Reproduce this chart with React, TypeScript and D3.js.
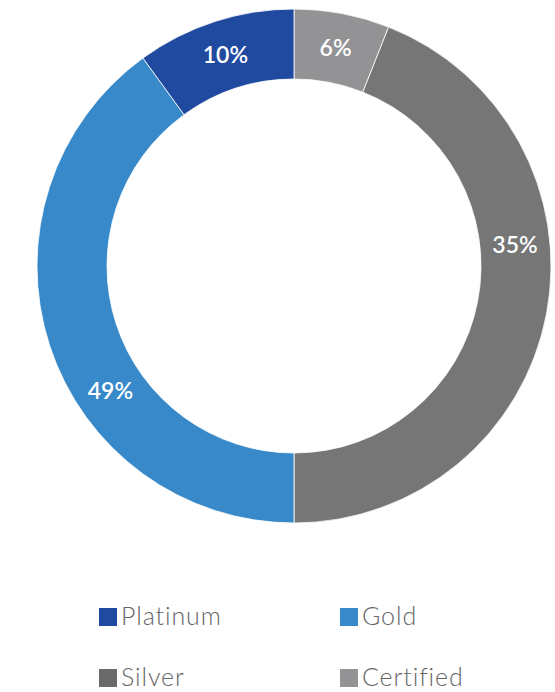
import React from "react";
import * as d3 from "d3";

const categories = ["Certified", "Silver", "Gold", "Platinum"];
const arcValues = [6, 44, 40, 10];
const labelValues = [6, 35, 49, 10];
const colors = ["#939396", "#767676", "#3889c9", "#1f4a9f"];
const legendOrder = ["Platinum", "Gold", "Silver", "Certified"];
const legendColors: Record<string, string> = {
  Platinum: "#1f4a9f",
  Gold: "#3889c9",
  Silver: "#6a6a6a",
  Certified: "#939396",
};

export default function App() {
  const W = 555, H = 692;
  const cx = 294, cy = 266;
  const outerR = 257, innerR = 187;
  const pie = d3.pie<number>().sort(null).value((d) => d);
  const arcs = pie(arcValues);
  const labelArcs = pie(labelValues);
  const arcGen = d3.arc<d3.PieArcDatum<number>>().innerRadius(innerR).outerRadius(outerR);
  const labelGen = d3.arc<d3.PieArcDatum<number>>().innerRadius(innerR).outerRadius(outerR);
  const legendX = d3.scaleOrdinal<number>().domain(["0", "1"]).range([99, 340]);
  const legendY = d3.scaleOrdinal<number>().domain(["0", "1"]).range([608, 669]);
  return (
    <svg width={W} height={H} style={{ position: "absolute", left: 0, top: 0 }}>
      <g transform={`translate(${cx},${cy})`}>
        {arcs.map((a, i) => (
          <path key={categories[i]} d={arcGen(a) || ""} fill={colors[i]} stroke="#fff" strokeWidth={0.8} />
        ))}
        {labelArcs.map((a, i) => {
          const [x, y] = labelGen.centroid(a);
          return (
            <text key={"l" + i} x={x} y={y} dy="0.35em" textAnchor="middle" fill="#fff"
              fontFamily="Lato, 'Open Sans', sans-serif" fontWeight={600} fontSize={23}>
              {labelValues[i]}%
            </text>
          );
        })}
      </g>
      {legendOrder.map((name, i) => {
        const x = legendX(String(i % 2));
        const y = legendY(String(Math.floor(i / 2)));
        return (
          <g key={name}>
            <rect x={x} y={y} width={18} height={18} fill={legendColors[name]} />
            <text x={x + 22} y={y + 17} fill="#666" fontFamily="Lato, 'Open Sans', sans-serif"
              fontWeight={300} fontSize={25} letterSpacing={0.9}>{name}</text>
          </g>
        );
      })}
    </svg>
  );
}
